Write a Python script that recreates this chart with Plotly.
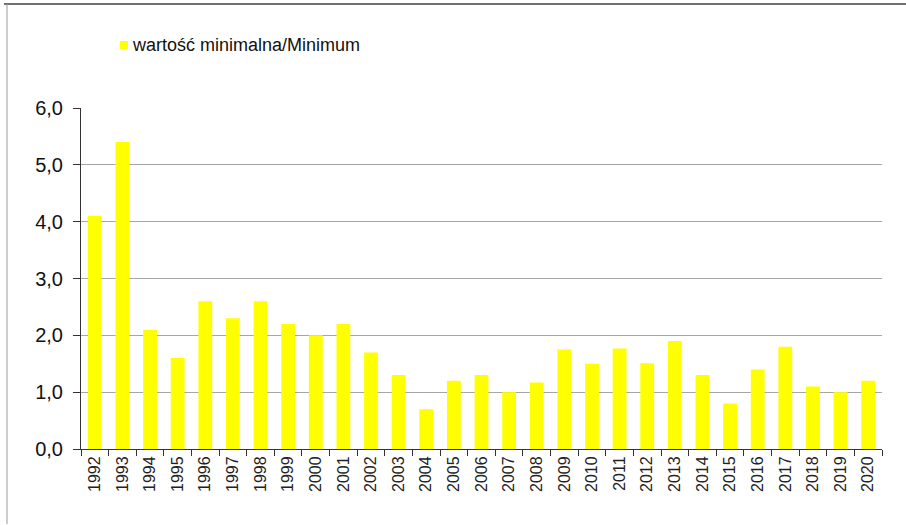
import plotly.graph_objects as go

years = [str(y) for y in range(1992, 2021)]
minimum = [4.1, 5.4, 2.1, 1.6, 2.6, 2.3, 2.6, 2.2, 2.0, 2.2,
           1.7, 1.3, 0.7, 1.2, 1.3, 1.0, 1.17, 1.75, 1.5, 1.77,
           1.51, 1.9, 1.3, 0.8, 1.4, 1.8, 1.1, 1.0, 1.2]
series_name = "wartość minimalna/Minimum"

L, R, T, B = 81, 24, 108, 76
W, H = 906, 525
pw, ph = W - L - R, H - T - B

def px(x):
    return (x - L) / pw

def py(y):
    return (H - B - y) / ph

fig = go.Figure()
fig.add_trace(go.Bar(x=years, y=minimum, name=series_name,
                     marker=dict(color="#FFFF00", line=dict(width=0)),
                     showlegend=False))

font_family = "Liberation Sans, Arial, sans-serif"

fig.update_layout(
    width=W, height=H,
    margin=dict(l=L, r=R, t=T, b=B),
    paper_bgcolor="white", plot_bgcolor="white",
    bargap=0.5,
    separators=", ",
    font=dict(family=font_family, color="#111111"),
    xaxis=dict(type="category", tickangle=-90, tickson="boundaries",
               ticks="outside", ticklen=6, tickcolor="#333333",
               showline=True, linecolor="#333333", linewidth=1,
               showgrid=False, tickfont=dict(size=16, family=font_family, color="#222222")),
    yaxis=dict(range=[0, 6], dtick=1, tickformat=".1f",
               ticks="outside", ticklen=7, tickcolor="#333333",
               showline=True, linecolor="#333333", linewidth=1,
               showgrid=True, gridcolor="#a6a6a6", gridwidth=1,
               zeroline=False, ticklabelstandoff=6,
               tickfont=dict(size=20, family=font_family, color="#111111")),
    shapes=[
        # outer frame (top and left)
        dict(type="line", xref="paper", yref="paper", x0=px(4), x1=px(906), y0=py(4), y1=py(4),
             line=dict(color="#707070", width=2)),
        dict(type="line", xref="paper", yref="paper", x0=px(7), x1=px(7), y0=py(4), y1=py(524),
             line=dict(color="#9a9a9a", width=1)),
        # legend swatch
        dict(type="rect", xref="paper", yref="paper", x0=px(120), x1=px(128), y0=py(49), y1=py(41),
             fillcolor="#FFFF00", line=dict(width=0)),
    ],
    annotations=[
        dict(text=series_name, xref="paper", yref="paper", x=px(130), y=py(45),
             xanchor="left", yanchor="middle", showarrow=False,
             font=dict(size=18, family=font_family, color="#111111")),
    ],
)

fig.write_html("out.html", config={"displayModeBar": False},
               post_script="document.body.style.margin='0px';document.body.style.overflow='hidden';")
